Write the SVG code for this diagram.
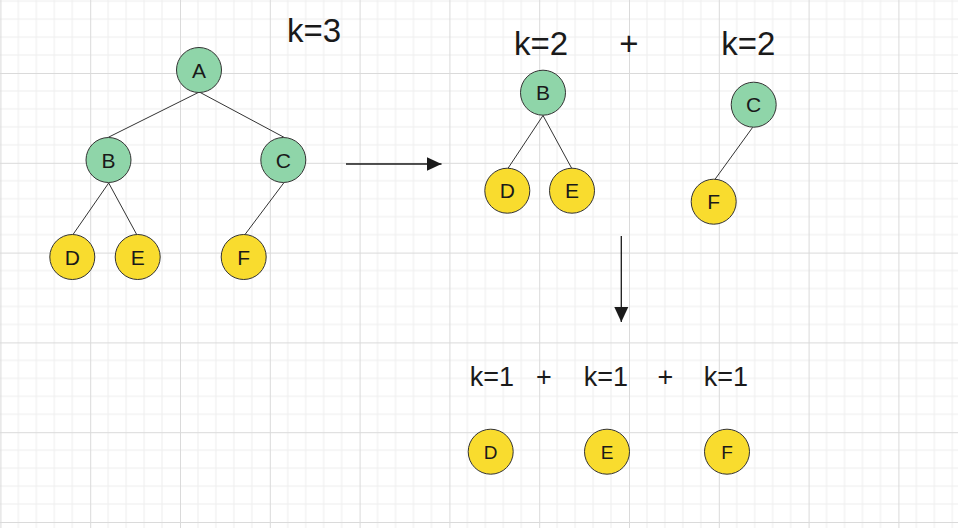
<svg xmlns="http://www.w3.org/2000/svg" width="958" height="528" viewBox="0 0 958 528">
<defs>
<pattern id="grid" patternUnits="userSpaceOnUse" x="0.4" y="-16.8" width="89.8" height="89.8">
<path d="M17.96,0V89.8M35.92,0V89.8M53.88,0V89.8M71.84,0V89.8M0,17.96H89.8M0,35.92H89.8M0,53.88H89.8M0,71.84H89.8" stroke="#eeeeee" stroke-width="1" fill="none"/>
<path d="M0.5,0V89.8M0,0.5H89.8" stroke="#dadada" stroke-width="1" fill="none"/>
</pattern>
<marker id="arrow" markerUnits="userSpaceOnUse" markerWidth="16" markerHeight="16" refX="15" refY="7" orient="auto" viewBox="0 0 16 14">
<path d="M0,0L15,7L0,14z" fill="#1a1a1a"/>
</marker>
</defs>
<style>
.g{fill:#8fd5a9;stroke:#333;stroke-width:1}
.y{fill:#f9dc2e;stroke:#333;stroke-width:1}
.lbl{font-family:"Liberation Sans",Arial,sans-serif;font-size:21px;fill:#1a1a1a;text-anchor:middle}
.sm{font-size:19px}
.k{font-family:"Liberation Sans",Arial,sans-serif;font-size:33px;fill:#1a1a1a;text-anchor:middle}
.k1{font-size:27px}
.edge{stroke:#333;stroke-width:1;fill:none}
.arr{stroke:#1a1a1a;stroke-width:1.3;fill:none;marker-end:url(#arrow)}
</style>
<rect width="958" height="528" fill="#fff"/>
<rect width="958" height="528" fill="url(#grid)"/>

<g id="connectors">
<line class="edge" x1="199.3" y1="92" x2="108.3" y2="137.3"/>
<line class="edge" x1="199.3" y1="92" x2="284" y2="137.3"/>
<line class="edge" x1="108.7" y1="183" x2="73" y2="234.5"/>
<line class="edge" x1="108.7" y1="183" x2="136.7" y2="234.5"/>
<line class="edge" x1="283.7" y1="183" x2="245" y2="234.5"/>
<line class="edge" x1="543" y1="115.5" x2="508" y2="168.3"/>
<line class="edge" x1="543" y1="115.5" x2="571.7" y2="168.3"/>
<line class="edge" x1="752.7" y1="127.3" x2="715" y2="179.3"/>
<line class="arr" x1="346" y1="164" x2="441.5" y2="164"/>
<line class="arr" x1="621.3" y1="236" x2="621.3" y2="322"/>
</g>

<g id="tree1-A"><circle class="g" cx="199" cy="70" r="22.5"/><text class="lbl" x="199" y="77.5">A</text></g>
<g id="tree1-B"><circle class="g" cx="108.5" cy="160" r="22.5"/><text class="lbl" x="108.5" y="167.5">B</text></g>
<g id="tree1-C"><circle class="g" cx="283.3" cy="160" r="22.5"/><text class="lbl" x="283.3" y="167.5">C</text></g>
<g id="tree1-D"><circle class="y" cx="72.3" cy="257" r="22.5"/><text class="lbl" x="72.3" y="264.5">D</text></g>
<g id="tree1-E"><circle class="y" cx="137.7" cy="257" r="22.5"/><text class="lbl" x="137.7" y="264.5">E</text></g>
<g id="tree1-F"><circle class="y" cx="243.7" cy="257" r="22.5"/><text class="lbl" x="243.7" y="264.5">F</text></g>

<g id="tree2-B"><circle class="g" cx="543" cy="92.7" r="22.5"/><text class="lbl" x="543" y="100.2">B</text></g>
<g id="tree2-D"><circle class="y" cx="507.3" cy="190.7" r="22.5"/><text class="lbl" x="507.3" y="198.2">D</text></g>
<g id="tree2-E"><circle class="y" cx="572" cy="190.7" r="22.5"/><text class="lbl" x="572" y="198.2">E</text></g>
<g id="tree3-C"><circle class="g" cx="753.7" cy="104.7" r="22.5"/><text class="lbl" x="753.7" y="112.2">C</text></g>
<g id="tree3-F"><circle class="y" cx="713.7" cy="201.7" r="22.5"/><text class="lbl" x="713.7" y="209.2">F</text></g>

<g id="leaf-D"><circle class="y" cx="490.7" cy="451.7" r="22.5"/><text class="lbl sm" x="490.7" y="458.5">D</text></g>
<g id="leaf-E"><circle class="y" cx="607" cy="451.7" r="22.5"/><text class="lbl sm" x="607" y="458.5">E</text></g>
<g id="leaf-F"><circle class="y" cx="727" cy="451.7" r="22.5"/><text class="lbl sm" x="727" y="458.5">F</text></g>

<g id="labels">
<text class="k" x="314" y="41.7">k=3</text>
<text class="k" x="541" y="55">k=2</text>
<text class="k" x="629" y="55">+</text>
<text class="k" x="748.3" y="55">k=2</text>
<text class="k k1" x="492" y="386">k=1</text>
<text class="k k1" x="544" y="386">+</text>
<text class="k k1" x="606" y="386">k=1</text>
<text class="k k1" x="665.5" y="386">+</text>
<text class="k k1" x="725.8" y="386">k=1</text>
</g>
</svg>
